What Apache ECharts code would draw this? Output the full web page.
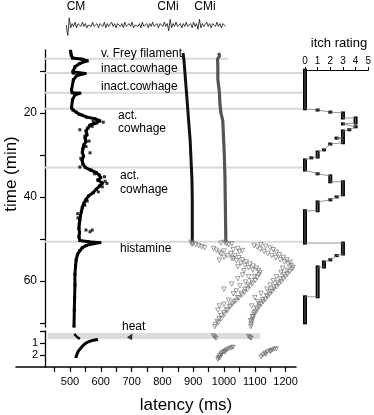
<!DOCTYPE html>
<html><head><meta charset="utf-8">
<script src="https://cdn.jsdelivr.net/npm/echarts@6/dist/echarts.min.js"></script>
<style>html,body{margin:0;padding:0;background:#fff}#c{width:374px;height:415px}</style>
</head><body><div id="c"></div>
<script>
// ================= DATA =================
const timeTicks = [10,20,30,40,50,60,70];
const timeLabels = [20,40,60];
const latencyTicks = [450,500,550,600,650,700,750,800,850,900,950,1000,1050,1100,1150,1200];
const latencyLabels = [500,600,700,800,900,1000,1100,1200];
const heatTicks = [0,1,2];
const heatLabels = [1,2];

// stimulus times (min) and where the marker line ends (latency ms; null = to itch axis)
const eventTimes = [7.1,10.5,15.2,19.0,33.0,50.7];
const eventEnd   = [1013,null,null,null,null,null];
const heatBand = [[428,1117,0.17,0.67]]; // latency from, to, row from, to

// CM fibre: [time min, latency ms]
const cmTrace = [[5.3,502],[6.2,504],[6.9,508],[7.2,540],[7.6,556],[8.2,532],[9.0,516],[10.2,509],[10.5,511],[10.6,549],[11.1,522],[12.1,511],[14.5,505],[15.2,507],[15.3,532],[15.7,516],[16.9,508],[18.8,505],[19.3,510],[19.8,520],[20.3,530],[21.0,555],[21.4,581],[21.9,597],[22.4,585],[22.9,565],[23.6,558],[24.3,552],[25.2,555],[26.0,549],[26.8,552],[27.6,545],[28.5,542],[29.4,540],[30.3,544],[31.2,539],[32.2,542],[33.0,550],[33.6,568],[34.2,585],[34.8,595],[35.4,600],[36.0,590],[36.7,605],[37.4,596],[38.2,585],[39.0,575],[39.8,560],[40.6,552],[41.5,545],[42.5,540],[43.5,537],[44.5,534],[45.5,532],[46.5,530],[47.5,529],[48.5,531],[49.5,529],[50.4,532],[50.7,560],[50.9,597],[51.2,571],[51.6,552],[52.1,540],[52.8,532],[53.8,524],[55.0,520],[56.5,518],[58.5,516],[61.0,516],[64.0,515],[67.0,514],[70.8,513]];
const cmScatter = [[24.0,532],[29.5,565],[32.9,532],[47.9,552],[47.9,572],[48.3,565],[22.2,608],[35.2,612],[36.3,614],[37.6,605],[21.7,590],[26.7,562],[38.8,592],[44.0,525],[20.5,540],[23.2,572],[25.5,548],[30.8,535],[34.5,580],[41.0,556],[42.0,548],[45.0,526],[28.0,552],[36.8,620],[22.0,575]];
// CMi fibres before histamine
const cmi1Trace = [[5.7,867],[7.4,870],[12.1,875],[16.9,880],[21.7,885],[26.4,890],[31.2,893],[36.0,896],[40.7,897],[45.5,897],[50.7,897]];
const cmi2Trace = [[5.7,982],[6.3,986],[7.2,979],[9.0,980],[12.0,980],[15.0,985],[18.0,987],[20.0,990],[21.8,996],[25.0,998],[30.0,1001],[35.0,1003],[40.0,1004],[45.0,1005],[50.7,1006]];
// CMi fibres after histamine (open triangles)
const cmiHistamine = [
[50.8,893],[51.1,900],[51.4,908],[51.6,918],[51.9,928],[52.1,937],[51.3,896],
[50.8,1003],[51.1,1008],[51.4,1015],[51.2,1025],[51.0,990],
[52.3,966],[52.7,975],[53.2,985],[52.9,1000],[53.6,990],[54.0,1010],[53.5,1022],[52.6,1030],[52.3,1045],[52.8,1060],[53.1,1050],[54.4,1000],[55.1,985],[54.7,1030],
[54.0,1035],[54.5,1048],[55.0,1060],[55.5,1072],[56.0,1084],[56.5,1095],[57.0,1105],[57.5,1112],[58.0,1117],
[54.6,1025],[55.2,1040],[55.8,1055],[56.3,1068],[56.9,1080],[57.4,1093],
[58.5,1114],[59.2,1108],[59.9,1101],[60.6,1093],[61.3,1085],[62.0,1076],[62.7,1067],[63.4,1058],[64.1,1048],[64.8,1038],[65.5,1028],[66.2,1018],[66.9,1008],[67.6,999],[68.3,991],[69.0,984],[69.7,978],[70.4,973],[70.9,970],
[59.0,1100],[60.0,1090],[61.0,1079],[62.0,1068],[63.0,1056],[64.0,1044],[65.0,1032],[66.0,1021],[67.0,1012],[68.0,1002],[69.0,992],[70.0,982],
[58.6,1060],[59.5,1045],[60.3,1070],[61.2,1052],[62.4,1040],[63.1,1030],[64.6,1015],[62.0,1000],[60.8,1025],[57.6,1065],[56.6,1045],[59.0,1080],[65.6,1000],[66.0,985],[67.0,980],
[51.4,1120],[51.8,1135],[52.2,1150],[51.6,1098],[52.0,1108],[52.5,1118],[53.0,1130],[53.5,1142],[54.0,1155],[54.5,1168],[55.0,1182],[55.5,1196],[56.0,1208],[56.4,1218],[56.8,1224],
[52.6,1160],[53.2,1170],[53.8,1180],[54.4,1192],[55.0,1204],[55.6,1215],
[57.2,1220],[57.8,1213],[58.4,1206],[59.0,1199],[59.6,1192],[60.2,1185],[60.8,1178],[61.4,1170],[62.0,1162],[62.6,1155],[63.2,1148],[63.8,1141],[64.4,1134],[65.0,1127],[65.6,1120],[66.2,1114],[66.8,1108],[67.4,1103],[68.0,1098],[68.6,1095],[69.2,1092],[69.8,1090],[70.4,1088],[70.9,1087],
[57.5,1205],[58.5,1195],[59.5,1184],[60.5,1173],[61.5,1162],[62.5,1150],[63.5,1138],[64.5,1126],[65.5,1115],[66.5,1105],[67.5,1098],[68.5,1092],[69.5,1086],
[58.0,1185],[60.0,1160],[62.0,1140],[63.0,1120],[61.0,1150],[65.0,1110],[66.0,1090],[64.0,1100],[59.0,1170],[57.0,1190]];

// heat responses: [response no., latency ms]
const cmHeatMark = [[0.25,514],[0.4,518],[0.5,523],[0.6,528],[0.67,532]];
const cmHeatCurve = [[2.25,519],[2.05,521],[1.85,524],[1.65,528],[1.45,534],[1.25,541],[1.05,549],[0.92,558],[0.82,568],[0.75,580],[0.7,591]];
const heatStimulus = [[0.42,698]];
const cmiHeat = [[0.4,966],[0.5,970],[0.6,974],[0.45,1080],[0.55,1085],[0.6,1088],
[2.35,980],[2.2,982],[2.05,985],[1.9,990],[1.8,995],[1.7,1000],[1.6,1006],[1.52,1012],[1.45,1018],[1.4,1024],[1.35,1029],[2.25,986],[2.0,992],[1.75,1004],
[2.15,1120],[2.0,1126],[1.85,1133],[1.75,1140],[1.65,1148],[1.58,1156],[1.52,1163],[1.48,1170],[1.95,1135],[1.7,1152]];

// raw recording sweep (arbitrary units), sampled from 488 ms in 4.75 ms steps
const sweepStart = 488, sweepStep = 4.75;
const sweep = [0,-8,5,-2,1,-1,2,-2,1,0,-1,2,-1,1,-2,0,1,-1,2,-1,
 0,1,-2,1,0,-1,2,-2,1,-1,0,2,-1,1,-2,1,0,-1,1,-2,
 2,-1,0,1,-1,2,-2,0,1,-1,1,-2,2,-1,0,1,-2,1,-1,2,
 -1,0,1,-2,1,0,-1,2,-1,1,-4,4,-2,1,-1,2,-1,0,1,-2,
 1,-1,2,-1,0,1,-2,2,-1,1,-3,4,-2,1,-1,0,2,-1,1,-2,
 1,0,-1,2,-1,1,-2,1,0,-1];

// itch rating segments
const itchStart  = [9.8,19.3,19.8,20.0,21.2,22.6,23.3,24.0,24.3,26.0,26.2,27.4,28.8,29.3,30.7,31.2,34.5,35.0,36.4,40.0,40.7,41.2,43.3,51.0,54.0,55.0,55.5,56.7,63.8];
const itchEnd    = [19.0,19.3,19.8,21.2,22.4,22.6,23.3,24.0,25.7,26.0,27.1,27.4,28.8,30.5,30.7,33.6,34.5,36.4,39.5,40.0,40.7,43.3,51.0,53.6,54.0,55.0,56.7,63.8,70.0];
const itchRating = [0,1,2,3,4,3,4,3.5,3,2.5,3,2,1.5,1,0.5,0,1,2,3,2.5,2,1,0,3,2.5,2,1.5,1,0];

// texts
const topLabels = ['CM','CMi','CMi'];
const stimLabels = ['v. Frey filament','inact.cowhage','inact.cowhage','act.','cowhage','act.','cowhage','histamine','heat'];

// ================= LAYOUT =================
const FONT = '"Liberation Sans", Arial, Helvetica, sans-serif';
const X500 = 70, PXMS = 0.308;
const lat = x => 500 + (x - X500) / PXMS;
const L = {axisLeft:16, plotLeft:45, plotRight:296, eventRight:305, itchLeft:305, itchRight:369.5,
           top:50, bottom:327, lowTop:331, lowBottom:367, swTop:15, swBottom:35, itchTop:70};
const TMIN = 5, TMAX = 71;
const pxPerMin = (L.bottom - L.top) / (TMAX - TMIN);
const itchTmin = TMIN + (L.itchTop - L.top) / pxPerMin;
const W = 374, H = 415;

const grid = (l, r, t, b) => ({left:l, width:r-l, top:t, height:b-t, containLabel:false});
const swap = a => a.map(p => [p[1], p[0]]);
const hidden = (gi, min, max, extra) => Object.assign({gridIndex:gi, type:'value', min, max, show:false, axisLine:{onZero:false}}, extra||{});
const plain = v => String(v);

const option = {
  animation:false,
  backgroundColor:'#fff',
  textStyle:{fontFamily:FONT},
  grid:[
    grid(L.plotLeft, L.plotRight, L.top, L.bottom),      // 0 main
    grid(L.plotLeft, L.eventRight, L.top, L.bottom),     // 1 event lines
    grid(L.plotLeft, L.plotRight, L.lowTop, L.lowBottom),// 2 heat panel
    grid(L.axisLeft, L.plotRight, L.lowTop, L.lowBottom),// 3 latency axis
    grid(L.axisLeft, L.plotRight, L.swTop, L.swBottom),  // 4 sweep
    grid(L.itchLeft, L.itchRight, L.itchTop, L.bottom)   // 5 itch
  ],
  xAxis:[
    hidden(0, lat(L.plotLeft), lat(L.plotRight)),
    hidden(1, lat(L.plotLeft), lat(L.eventRight)),
    hidden(2, lat(L.plotLeft), lat(L.plotRight)),
    {gridIndex:3, type:'value', position:'bottom', min:lat(L.axisLeft), max:lat(L.plotRight),
     axisLine:{show:true, onZero:false, lineStyle:{color:'#000', width:1.5}},
     axisTick:{show:true, length:5, customValues:latencyTicks, lineStyle:{color:'#000', width:1.2}},
     axisLabel:{customValues:latencyLabels, formatter:plain, color:'#000', fontSize:11, margin:9, fontFamily:FONT},
     splitLine:{show:false}},
    hidden(4, lat(L.axisLeft), lat(L.plotRight)),
    {gridIndex:5, type:'value', position:'top', min:0, max:5, interval:1,
     axisLine:{show:true, onZero:false, lineStyle:{color:'#000', width:1.2}},
     axisTick:{show:true, length:3, lineStyle:{color:'#000'}},
     axisLabel:{color:'#000', fontSize:10, margin:4, fontFamily:FONT},
     splitLine:{show:false}}
  ],
  yAxis:[
    {gridIndex:0, type:'value', position:'left', inverse:true, min:TMIN, max:TMAX,
     axisLine:{show:true, onZero:false, lineStyle:{color:'#000', width:1.3}},
     axisTick:{show:true, length:5, customValues:timeTicks, lineStyle:{color:'#000', width:1.2}},
     axisLabel:{customValues:timeLabels, color:'#000', fontSize:12, margin:8, fontFamily:FONT},
     splitLine:{show:false}},
    hidden(1, TMIN, TMAX, {inverse:true}),
    {gridIndex:2, type:'value', position:'left', inverse:true, min:0, max:3,
     axisLine:{show:true, onZero:false, lineStyle:{color:'#000', width:1.3}},
     axisTick:{show:true, length:5, customValues:heatTicks, lineStyle:{color:'#000', width:1.2}},
     axisLabel:{customValues:heatLabels, color:'#000', fontSize:11, margin:7, fontFamily:FONT},
     splitLine:{show:false}},
    hidden(3, 0, 3, {inverse:true}),
    hidden(4, -7, 7),
    hidden(5, itchTmin, TMAX, {inverse:true})
  ],
  series:[
    {type:'custom', xAxisIndex:1, yAxisIndex:1, silent:true, z:1,
     data: eventTimes.map((t,i) => [eventEnd[i] == null ? lat(L.eventRight) : eventEnd[i], t]),
     encode:{x:0, y:1},
     renderItem:(p, api) => {
       const a = api.coord([lat(L.plotLeft), api.value(1)]);
       const b = api.coord([api.value(0), api.value(1)]);
       return {type:'line', shape:{x1:a[0], y1:a[1], x2:b[0], y2:b[1]}, style:{stroke:'#d9d9d9', lineWidth:2}};
     }},
    {type:'custom', xAxisIndex:2, yAxisIndex:2, silent:true, z:1,
     data: heatBand, encode:{x:[0,1], y:[2,3]},
     renderItem:(p, api) => {
       const a = api.coord([api.value(0), api.value(2)]);
       const b = api.coord([api.value(1), api.value(3)]);
       return {type:'rect', shape:{x:a[0], y:a[1], width:b[0]-a[0], height:b[1]-a[1]}, style:{fill:'#dcdcdc'}};
     }},
    // sweep
    {type:'line', xAxisIndex:4, yAxisIndex:4, showSymbol:false, silent:true,
     data: sweep.map((v,i) => [sweepStart + i*sweepStep, v]),
     lineStyle:{color:'#111', width:0.8}},
    // CMi fibres
    {type:'line', xAxisIndex:0, yAxisIndex:0, showSymbol:false, silent:true, z:3,
     data: swap(cmi1Trace), lineStyle:{color:'#111', width:3}},
    {type:'line', xAxisIndex:0, yAxisIndex:0, showSymbol:false, silent:true, z:3,
     data: swap(cmi2Trace), lineStyle:{color:'#555', width:3.2}},
    {type:'scatter', xAxisIndex:0, yAxisIndex:0, silent:true, z:3,
     data: swap(cmiHistamine), symbol:'triangle', symbolRotate:180, symbolSize:4.5,
     itemStyle:{color:'rgba(255,255,255,0)', borderColor:'#6e6e6e', borderWidth:0.8}},
    // CM fibre
    {type:'line', xAxisIndex:0, yAxisIndex:0, silent:true, z:4,
     data: swap(cmTrace), symbol:'rect', symbolSize:3, showSymbol:true,
     itemStyle:{color:'#000'}, lineStyle:{color:'#000', width:3}},
    {type:'scatter', xAxisIndex:0, yAxisIndex:0, silent:true, z:4,
     data: swap(cmScatter), symbol:'rect', symbolSize:3, itemStyle:{color:'#000'}},
    // heat panel
    {type:'line', xAxisIndex:2, yAxisIndex:2, showSymbol:false, silent:true, z:4,
     data: swap(cmHeatMark), lineStyle:{color:'#000', width:2.5}},
    {type:'line', xAxisIndex:2, yAxisIndex:2, showSymbol:false, silent:true, z:4,
     data: swap(cmHeatCurve), lineStyle:{color:'#000', width:3}},
    {type:'scatter', xAxisIndex:2, yAxisIndex:2, silent:true, z:4,
     data: swap(heatStimulus), symbol:'triangle', symbolRotate:-30, symbolSize:6, itemStyle:{color:'#000'}},
    {type:'scatter', xAxisIndex:2, yAxisIndex:2, silent:true, z:4,
     data: swap(cmiHeat), symbol:'triangle', symbolRotate:180, symbolSize:4,
     itemStyle:{color:'rgba(255,255,255,0)', borderColor:'#666', borderWidth:0.9}},
    // itch
    {type:'line', xAxisIndex:5, yAxisIndex:5, showSymbol:false, silent:true,
     data: itchStart.flatMap((s,i) => [[itchRating[i], s], [itchRating[i], itchEnd[i]]]),
     lineStyle:{color:'#777', width:0.8}},
    {type:'custom', xAxisIndex:5, yAxisIndex:5, silent:true, z:3,
     data: itchStart.map((s,i) => [itchRating[i], s, itchEnd[i]]),
     encode:{x:0, y:[1,2]},
     renderItem:(p, api) => {
       const a = api.coord([api.value(0), api.value(1)]);
       const b = api.coord([api.value(0), api.value(2)]);
       return {type:'rect', shape:{x:a[0]-2, y:a[1]-1.5, width:4, height:Math.max(b[1]-a[1],0)+3}, style:{fill:'#000'}};
     }}
  ],
  graphic:{elements:[]}
};

function txt(s, x, y, size, align, rot){
  return {type:'text', x, y, rotation:rot||0, silent:true, z:100,
    style:{text:s, fill:'#000', font:size+'px '+FONT, fontSize:size, fontFamily:FONT,
           align:align||'left', verticalAlign:'middle', textAlign:align||'left', textVerticalAlign:'middle'}};
}
const G = option.graphic.elements;
G.push(txt(topLabels[0], 76, 7, 12, 'center'));
G.push(txt(topLabels[1], 168, 7, 12, 'center'));
G.push(txt(topLabels[2], 205, 7, 12, 'center'));
G.push(txt(stimLabels[0], 101, 54, 12));
G.push(txt(stimLabels[1], 101, 69, 12));
G.push(txt(stimLabels[2], 101, 87, 12));
G.push(txt(stimLabels[3], 118, 116, 12));
G.push(txt(stimLabels[4], 118, 129, 12));
G.push(txt(stimLabels[5], 120, 176, 12));
G.push(txt(stimLabels[6], 120, 190, 12));
G.push(txt(stimLabels[7], 120, 249, 12));
G.push(txt(stimLabels[8], 122, 327, 12));
G.push(txt('itch rating', 339, 43, 13, 'center'));
G.push(txt('time (min)', 11, 174, 17, 'center', Math.PI/2));
G.push(txt('latency (ms)', 186, 405, 17, 'center'));

const chart = echarts.init(document.getElementById('c'), null, {renderer:'canvas', width:W, height:H});
chart.setOption(option);
</script>
</body></html>
